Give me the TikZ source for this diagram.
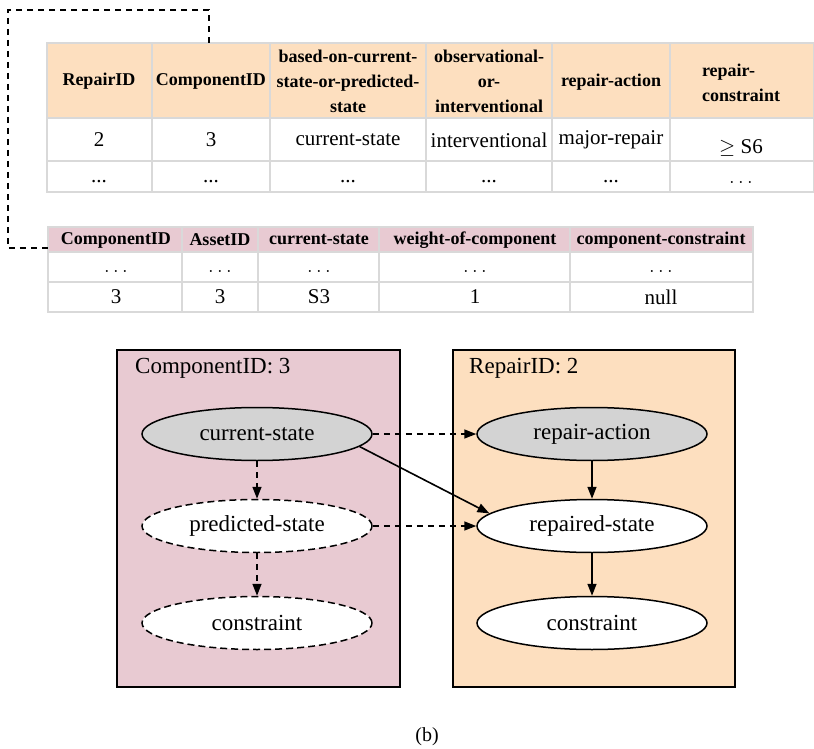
\documentclass[tikz,border=0pt]{standalone}
\usepackage{fontspec}
\setmainfont{Liberation Serif}
\usetikzlibrary{shapes.geometric,arrows.meta}

\definecolor{repairfill}{HTML}{FDDFBF}
\definecolor{compfill}{HTML}{E8CAD2}
\definecolor{obsfill}{HTML}{D3D3D3}
\definecolor{gridgray}{HTML}{D9D9D9}

\begin{document}
\begin{tikzpicture}[x=1pt,y=-1pt,
    hdr/.style={font=\fontsize{18}{25}\selectfont\bfseries,align=center,inner sep=0pt},
    cell/.style={font=\fontsize{21}{24}\selectfont,inner sep=0pt},
    var/.style={ellipse,draw,line width=1.5pt,fill=white,minimum width=230pt,
      minimum height=53pt,inner sep=0pt,font=\fontsize{23}{25}\selectfont},
    hidden/.style={var,dash pattern=on 7pt off 4pt},
    given/.style={var,fill=obsfill},
    grid/.style={draw=gridgray,line width=1.6pt},
    link/.style={line width=1.6pt,-{Triangle[length=12pt,width=9pt]}},
    maybe/.style={link,dash pattern=on 6pt off 5pt}]
  \useasboundingbox (0,0) rectangle (814,749);

  % repair table
  \fill[repairfill] (47,43) rectangle (814,118);
  \draw[grid] (47,43) rectangle (814,192);
  \draw[grid] (47,118) -- (814,118);
  \draw[grid] (47,161) -- (814,161);
  \draw[grid] (152,43) -- (152,192);
  \draw[grid] (270,43) -- (270,192);
  \draw[grid] (426,43) -- (426,192);
  \draw[grid] (552,43) -- (552,192);
  \draw[grid] (670,43) -- (670,192);
  \node[hdr] (rid) at (99,81) {RepairID};
  \node[hdr] (cid) at (211,81) {ComponentID};
  \node[hdr] (basis) at (348,81) {based-on-current-\\state-or-predicted-\\state};
  \node[hdr] (obs) at (489,81) {observational-\\or-\\interventional};
  \node[hdr] (ract) at (611,82) {repair-action};
  \node[hdr,align=left] (rcon) at (741,83) {repair-\\constraint};
  \node[cell] (r1) at (99,140) {2};
  \node[cell] (r2) at (211,140) {3};
  \node[cell] (r3) at (348,140) {current-state};
  \node[cell] (r4) at (489,140) {interventional};
  \node[cell] (r5) at (611,140) {major-repair};
  \node[cell] (r6) at (741,148) {$\geq$ S6};
  \node[cell] (d1) at (99,182) {...};
  \node[cell] (d2) at (211,182) {...};
  \node[cell] (d3) at (348,182) {...};
  \node[cell] (d4) at (489,182) {...};
  \node[cell] (d5) at (611,182) {...};
  \node[cell] (d6) at (741,182) {$\ldots$};

  % component table
  \fill[compfill] (48,227) rectangle (753,252);
  \draw[grid] (48,227) rectangle (753,312);
  \draw[grid] (48,252) -- (753,252);
  \draw[grid] (48,282) -- (753,282);
  \draw[grid] (182,227) -- (182,312);
  \draw[grid] (258,227) -- (258,312);
  \draw[grid] (379,227) -- (379,312);
  \draw[grid] (570,227) -- (570,312);
  \node[hdr] (ccid) at (116,240) {ComponentID};
  \node[hdr] (aid) at (220,240) {AssetID};
  \node[hdr] (cstate) at (319,240) {current-state};
  \node[hdr] (wgt) at (475,240) {weight-of-component};
  \node[hdr] (ccon) at (661,240) {component-constraint};
  \node[cell] (e1) at (116,271) {$\ldots$};
  \node[cell] (e2) at (220,271) {$\ldots$};
  \node[cell] (e3) at (319,271) {$\ldots$};
  \node[cell] (e4) at (475,271) {$\ldots$};
  \node[cell] (e5) at (661,271) {$\ldots$};
  \node[cell] (b1) at (116,297) {3};
  \node[cell] (b2) at (220,297) {3};
  \node[cell] (b3) at (319,297) {S3};
  \node[cell] (b4) at (475,297) {1};
  \node[cell] (b5) at (661,297) {null};

  % key link between the tables
  \coordinate (fkey) at (209,43);
  \coordinate (pkey) at (48,248);
  \draw[line width=1.5pt,dash pattern=on 6pt off 5pt]
    (fkey) -- (209,10) -- (8,10) -- (8,248) -- (pkey);

  % plates
  \draw[line width=1.5pt,fill=compfill] (117,350) rectangle (400,687);
  \draw[line width=1.5pt,fill=repairfill] (453,350) rectangle (735,687);
  \node[cell,font=\fontsize{23}{25}\selectfont,anchor=west] (cplate) at (135,368) {ComponentID: 3};
  \node[cell,font=\fontsize{23}{25}\selectfont,anchor=west] (rplate) at (469,368) {RepairID: 2};

  \node[given] (cs) at (257,434) {current-state};
  \node[hidden] (ps) at (257,526) {predicted-state};
  \node[hidden] (cc) at (257,623) {constraint};
  \node[given] (ra) at (592,434) {repair-action};
  \node[var] (rs) at (592,526) {repaired-state};
  \node[var] (rc) at (592,623) {constraint};

  \draw[maybe] (cs) -- (ps);
  \draw[maybe] (ps) -- (cc);
  \draw[maybe] (cs) -- (ra);
  \draw[maybe] (ps) -- (rs);
  \draw[link] (cs.-7) -- (rs.173);
  \draw[link] (ra) -- (rs);
  \draw[link] (rs) -- (rc);

  \node[font=\fontsize{20}{22}\selectfont] (cap) at (427,737) {(b)};
\end{tikzpicture}
\end{document}
